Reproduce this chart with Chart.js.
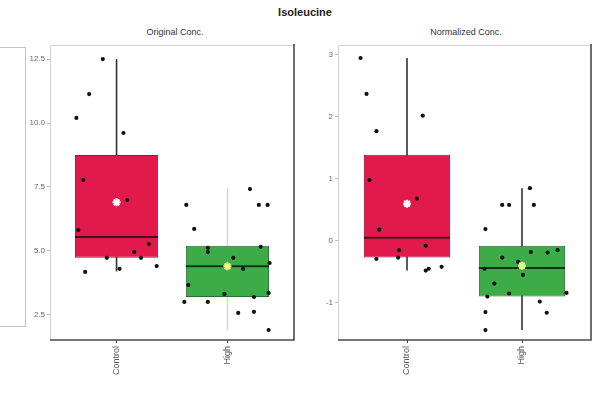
<!DOCTYPE html>
<html>
<head>
<meta charset="utf-8">
<script src="https://cdn.jsdelivr.net/npm/chart.js@4.4.1/dist/chart.umd.min.js"></script>
<style>
  html, body { margin: 0; padding: 0; background: #fff; }
  body { width: 597px; height: 400px; position: relative; overflow: hidden;
         font-family: "Liberation Sans", Arial, sans-serif; }
  .t { position: absolute; white-space: nowrap; transform: translateX(-50%); color: #222; }
  #main { left: 305px; top: 6px; font-size: 11px; font-weight: bold; }
  .sub { top: 27px; font-size: 9px; color: #333; }
  canvas { position: absolute; top: 0; }
  #sideFrame { position: absolute; left: -2px; top: 47px; width: 26px; height: 278px;
               border: 1px solid #c4c4c4; }
</style>
</head>
<body>
<div id="sideFrame"></div>
<div class="t" id="main">Isoleucine</div>
<div class="t sub" style="left:175px">Original Conc.</div>
<div class="t sub" style="left:466px">Normalized Conc.</div>
<canvas id="orig" width="300" height="400" style="left:0"></canvas>
<canvas id="norm" width="297" height="400" style="left:300px"></canvas>

<script>
// Groups on the x axis
const groups = ['Control', 'High'];

// ---- Original concentration ----
const origQ1 = [4.73, 3.2];
const origMedian = [5.55, 4.4];
const origQ3 = [8.75, 5.2];
const origWhiskerLow = [4.2, 1.9];
const origWhiskerHigh = [12.5, 7.45];
const origMean = [6.9, 4.4];
const origTicks = [2.5, 5.0, 7.5, 10.0, 12.5];

const origControl = [12.5, 11.13, 10.2, 9.61, 7.77, 6.99, 5.82, 5.27, 4.96, 4.73, 4.73, 4.18, 4.30, 4.41];
const origControlJitter = [-0.124, -0.247, -0.362, 0.062, -0.300, 0.097, -0.345, 0.292, 0.159, -0.088, 0.221, -0.283, 0.027, 0.362];
const origHigh = [6.80, 5.86, 7.42, 6.80, 6.80, 5.12, 5.16, 4.96, 4.73, 4.30, 4.53, 3.67, 3.32, 3.36, 3.01, 3.01, 3.20, 2.58, 2.62, 1.91];
const origHighJitter = [-0.371, -0.300, 0.203, 0.283, 0.362, -0.177, 0.300, -0.177, 0.053, 0.141, 0.380, -0.353, -0.027, 0.371, -0.389, -0.177, 0.239, 0.097, 0.239, 0.371];

// ---- Normalized concentration ----
const normQ1 = [-0.27, -0.9];
const normMedian = [0.05, -0.44];
const normQ3 = [1.39, -0.08];
const normWhiskerLow = [-0.48, -1.44];
const normWhiskerHigh = [2.95, 0.85];
const normMean = [0.6, -0.40];
const normTicks = [-1, 0, 1, 2, 3];

const normControl = [2.95, 2.37, 1.77, 2.02, 0.98, 0.68, 0.18, -0.08, -0.15, -0.29, -0.27, -0.48, -0.42, -0.45];
const normControlJitter = [-0.404, -0.352, -0.266, 0.137, -0.326, 0.086, -0.241, 0.163, -0.069, -0.266, -0.077, 0.163, 0.301, 0.189];
const normHigh = [0.85, 0.58, 0.58, 0.58, 0.19, -0.18, -0.27, -0.45, -0.34, -0.19, -0.69, -0.85, -0.84, -0.90, -0.98, -1.15, -1.16, -1.44, -0.55, -0.15];
const normHighJitter = [0.069, -0.172, -0.112, 0.103, -0.318, 0.077, -0.172, -0.326, -0.034, 0.223, -0.241, -0.112, 0.387, -0.301, 0.155, -0.318, 0.215, -0.318, 0.009, 0.309];

// ---- styling ----
const BOX_WIDTH = 0.75;
const boxFill = ['#e2194b', '#3cab48'];
const boxEdge = ['#a8123a', '#256f2e'];
const medianColor = ['#4a0c1c', '#12331a'];
const meanColor = ['#ffffff', '#eaff86'];

Chart.defaults.font.family = '"Liberation Sans", Arial, sans-serif';
Chart.defaults.animation = false;

// panel frame: light left/top edges, dark right/bottom edges
const framePlugin = {
  id: 'frame',
  beforeDatasetsDraw(chart) {
    const { ctx, chartArea: a } = chart;
    ctx.save();
    ctx.lineWidth = 1;
    ctx.strokeStyle = '#d2d2d2';
    ctx.beginPath();
    ctx.moveTo(a.left + 0.5, a.bottom);
    ctx.lineTo(a.left + 0.5, a.top + 0.5);
    ctx.lineTo(a.right, a.top + 0.5);
    ctx.stroke();
    ctx.lineWidth = 1.6;
    ctx.strokeStyle = '#4a4a4a';
    ctx.beginPath();
    ctx.moveTo(a.right, a.top - 1);
    ctx.lineTo(a.right, a.bottom);
    ctx.lineTo(a.left, a.bottom);
    ctx.stroke();
    ctx.restore();
  }
};

function buildDatasets(stats, samples, jitters, whiskerColors) {
  const half = BOX_WIDTH / 2;
  const ds = [];
  groups.forEach((g, i) => {
    ds.push({
      type: 'line',
      data: [{ x: i, y: stats.whiskerLow[i] }, { x: i, y: stats.whiskerHigh[i] }],
      borderColor: whiskerColors[i], borderWidth: 1.6, pointRadius: 0, order: 4
    });
  });
  ds.push({
    type: 'bar',
    data: groups.map((g, i) => ({ x: i, y: [stats.q1[i], stats.q3[i]] })),
    backgroundColor: boxFill, borderColor: boxEdge, borderWidth: 1, borderSkipped: false,
    grouped: false, barPercentage: BOX_WIDTH, categoryPercentage: 1, order: 3
  });
  groups.forEach((g, i) => {
    ds.push({
      type: 'line',
      data: [{ x: i - half, y: stats.median[i] }, { x: i + half, y: stats.median[i] }],
      borderColor: medianColor[i], borderWidth: 2, pointRadius: 0, order: 2
    });
  });
  samples.forEach((vals, i) => {
    ds.push({
      type: 'scatter',
      data: vals.map((v, k) => ({ x: i + jitters[i][k], y: v })),
      pointRadius: 2.1, backgroundColor: '#111', borderWidth: 0, order: 1
    });
  });
  ds.push({
    type: 'scatter',
    data: groups.map((g, i) => ({ x: i, y: stats.mean[i] })),
    pointStyle: 'star', pointRadius: 4, borderWidth: 2,
    borderColor: meanColor, backgroundColor: meanColor, order: 0
  });
  return ds;
}

function makePanel(id, stats, samples, jitters, whiskerColors, yTicks, yMin, yMax, yFormat, axisWidth, padRight) {
  new Chart(document.getElementById(id), {
    type: 'bar',
    data: { datasets: buildDatasets(stats, samples, jitters, whiskerColors) },
    plugins: [framePlugin],
    options: {
      responsive: false,
      layout: { padding: { top: 45, right: padRight, bottom: 0, left: 0 } },
      plugins: { legend: { display: false }, tooltip: { enabled: false } },
      scales: {
        x: {
          type: 'linear', min: -0.6, max: 1.6, offset: false,
          afterBuildTicks: s => { s.ticks = groups.map((g, i) => ({ value: i })); },
          afterFit: s => { s.height = 60; },
          border: { display: false },
          grid: { offset: false, drawOnChartArea: false, tickLength: 3, color: '#444' },
          ticks: {
            autoSkip: false, minRotation: 90, maxRotation: 90, padding: 3,
            color: '#555', font: { size: 9 },
            callback: v => groups[v]
          }
        },
        y: {
          min: yMin, max: yMax,
          afterBuildTicks: s => { s.ticks = yTicks.map(v => ({ value: v })); },
          afterFit: s => { s.width = axisWidth; },
          border: { display: false },
          grid: { drawOnChartArea: false, tickLength: 3, color: '#bbb' },
          ticks: { color: '#666', font: { size: 8 }, padding: 2, callback: yFormat }
        }
      }
    }
  });
}

makePanel('orig',
  { q1: origQ1, median: origMedian, q3: origQ3, whiskerLow: origWhiskerLow, whiskerHigh: origWhiskerHigh, mean: origMean },
  [origControl, origHigh], [origControlJitter, origHighJitter],
  ['#333333', '#d9d9d9'], origTicks, 1.52, 13.05, v => v.toFixed(1), 50, 1);

makePanel('norm',
  { q1: normQ1, median: normMedian, q3: normQ3, whiskerLow: normWhiskerLow, whiskerHigh: normWhiskerHigh, mean: normMean },
  [normControl, normHigh], [normControlJitter, normHighJitter],
  ['#333333', '#333333'], normTicks, -1.6, 3.16, v => String(v), 38, 3);
</script>
</body>
</html>
